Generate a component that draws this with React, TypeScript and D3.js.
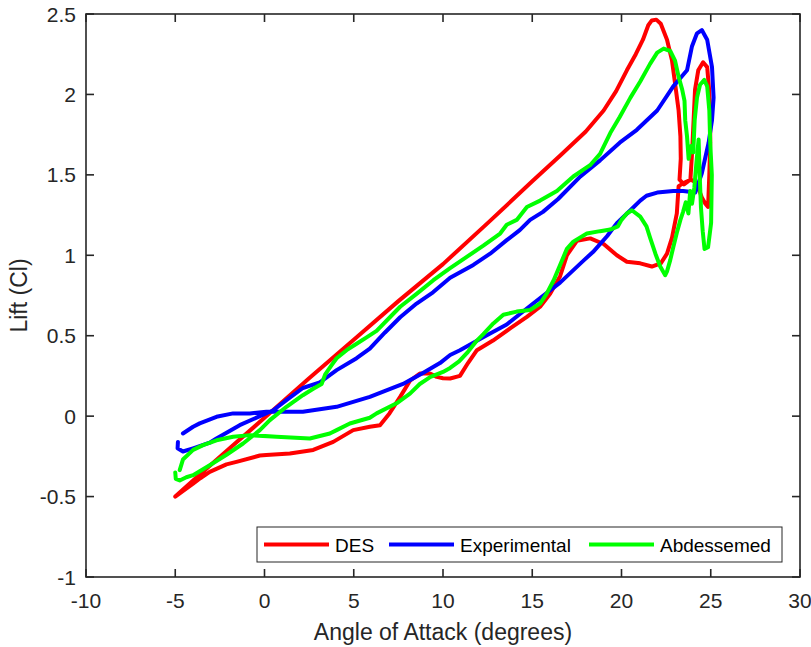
import React from "react";
import * as d3 from "d3";

type Pt = [number, number];

const xTicks = [-10, -5, 0, 5, 10, 15, 20, 25, 30];
const yTicks = [-1, -0.5, 0, 0.5, 1, 1.5, 2, 2.5];
const seriesNames = ["DES", "Experimental", "Abdessemed"];
const seriesColors = ["#ff0000", "#0000ff", "#00ff00"];

const desData: Pt[] = [
  [-5, -0.5], [-4, -0.4], [-2, -0.205], [0, -0.01], [2.5, 0.235], [5, 0.475], [7.5, 0.715],
  [10, 0.945], [12.5, 1.2], [15, 1.46], [16.57, 1.62], [18, 1.77], [19, 1.9], [19.7, 2.02],
  [20.3, 2.15], [20.8, 2.25], [21.2, 2.34], [21.5, 2.43], [21.7, 2.46], [21.95, 2.465],
  [22.2, 2.44], [22.55, 2.34], [22.83, 2.21], [23.0, 2.07], [23.2, 1.9], [23.3, 1.74],
  [23.32, 1.6], [23.25, 1.47], [23.5, 1.44], [23.86, 1.47], [23.95, 1.63], [24.04, 1.84],
  [24.12, 2.03], [24.3, 2.15], [24.57, 2.2], [24.8, 2.17], [24.9, 2.04], [24.97, 1.9],
  [24.97, 1.7], [24.92, 1.5], [24.85, 1.3], [24.7, 1.32], [24.5, 1.36], [24.2, 1.45],
  [23.9, 1.47], [23.5, 1.45], [23.2, 1.43], [23.1, 1.26], [22.83, 1.11], [22.55, 1.01],
  [22.2, 0.95], [21.7, 0.93], [21.05, 0.95], [20.3, 0.96], [19.74, 1.0], [19.0, 1.07],
  [18.25, 1.105], [17.5, 1.09], [16.94, 1.0], [16.56, 0.87], [16.0, 0.76], [15.44, 0.68],
  [14.7, 0.617], [13.76, 0.545], [12.8, 0.47], [11.9, 0.41], [11.4, 0.33], [10.95, 0.25],
  [10.4, 0.234], [10.0, 0.236], [9.65, 0.244], [9.27, 0.265], [8.7, 0.265], [8.15, 0.22],
  [7.6, 0.12], [7.0, 0.017], [6.47, -0.056], [5.9, -0.066], [4.97, -0.087], [3.85, -0.16],
  [2.73, -0.21], [1.42, -0.232], [0.1, -0.242], [-0.26, -0.245], [-1.57, -0.284],
  [-2.13, -0.3], [-3.07, -0.346], [-3.6, -0.386], [-4.0, -0.42], [-5, -0.5],
];

const expData: Pt[] = [
  [-4.85, -0.16], [-4.87, -0.2], [-4.57, -0.22], [-4.0, -0.2], [-3.07, -0.165],
  [-2.69, -0.139], [-1.39, -0.056], [-0.26, 0.0], [0.47, 0.035], [1.23, 0.1],
  [2.15, 0.175], [3.1, 0.21], [4.04, 0.286], [5.16, 0.36], [5.9, 0.42], [6.75, 0.52],
  [7.6, 0.615], [8.52, 0.7], [9.44, 0.77], [10.4, 0.86], [11.7, 0.94], [12.64, 1.01],
  [13.57, 1.094], [14.3, 1.156], [14.88, 1.22], [15.6, 1.27], [16.45, 1.35], [17.7, 1.49],
  [18.8, 1.59], [19.9, 1.7], [20.86, 1.78], [22.0, 1.9], [22.9, 2.05], [23.67, 2.15],
  [23.95, 2.3], [24.23, 2.38], [24.5, 2.4], [24.8, 2.34], [25.07, 2.17], [25.16, 1.98],
  [25.07, 1.84], [24.88, 1.7], [24.5, 1.51], [24.13, 1.39], [23.46, 1.4], [22.9, 1.4],
  [22.0, 1.39], [21.4, 1.37], [21.05, 1.34], [20.5, 1.28], [19.74, 1.2], [19.2, 1.12],
  [18.4, 1.02], [17.9, 0.97], [16.56, 0.83], [15.05, 0.7], [13.57, 0.57], [12.25, 0.49],
  [10.95, 0.41], [10.4, 0.38], [9.83, 0.33], [8.9, 0.27], [7.76, 0.2], [5.9, 0.12],
  [4.04, 0.058], [2.15, 0.027], [0.1, 0.027], [-0.82, 0.017], [-1.76, 0.017],
  [-2.69, -0.004], [-3.63, -0.045], [-4.0, -0.066], [-4.57, -0.108],
];

const abdData: Pt[] = [
  [-5.0, -0.35], [-4.97, -0.39], [-4.75, -0.4], [-4.38, -0.38], [-4.0, -0.367],
  [-3.07, -0.305], [-2.13, -0.24], [-1.2, -0.17], [-0.26, -0.087], [0.3, -0.025],
  [1.23, 0.058], [2.15, 0.13], [2.73, 0.17], [3.2, 0.2], [3.4, 0.26], [3.76, 0.317],
  [4.04, 0.36], [4.6, 0.41], [5.16, 0.45], [5.72, 0.49], [6.28, 0.53], [7.6, 0.68],
  [8.52, 0.76], [9.46, 0.845], [10.4, 0.92], [11.33, 0.99], [12.26, 1.06], [13.2, 1.135],
  [13.57, 1.19], [14.13, 1.22], [14.7, 1.3], [15.44, 1.34], [16.38, 1.4], [17.3, 1.49],
  [18.24, 1.56], [18.8, 1.63], [19.37, 1.76], [19.9, 1.86], [20.5, 1.98], [21.05, 2.08],
  [21.6, 2.19], [22.0, 2.26], [22.36, 2.285], [22.73, 2.27], [23.0, 2.21], [23.2, 2.11],
  [23.4, 2.03], [23.53, 1.96], [23.57, 1.84], [23.67, 1.74], [23.76, 1.6], [23.9, 1.68],
  [24.02, 1.64], [24.1, 1.84], [24.23, 1.98], [24.4, 2.06], [24.64, 2.09], [24.8, 2.05],
  [24.92, 1.9], [24.97, 1.7], [25.06, 1.5], [25.02, 1.2], [24.85, 1.05], [24.65, 1.04],
  [24.55, 1.15], [24.45, 1.3], [24.38, 1.5], [24.32, 1.72], [24.2, 1.58], [24.08, 1.42],
  [23.95, 1.32], [23.85, 1.4], [23.75, 1.26], [23.6, 1.33], [23.45, 1.27], [23.3, 1.22],
  [23.1, 1.14], [22.9, 1.05], [22.73, 0.97], [22.55, 0.9], [22.45, 0.876], [22.17, 0.93],
  [21.9, 1.01], [21.6, 1.11], [21.4, 1.18], [21.05, 1.24], [20.58, 1.28], [20.3, 1.26],
  [20.0, 1.22], [19.8, 1.18], [19.37, 1.16], [18.8, 1.15], [18.06, 1.135], [17.3, 1.085],
  [16.94, 1.04], [16.56, 0.94], [16.2, 0.845], [15.8, 0.76], [15.44, 0.7], [14.88, 0.66],
  [14.13, 0.65], [13.38, 0.63], [12.82, 0.576], [12.26, 0.51], [11.9, 0.47], [11.4, 0.4],
  [10.9, 0.34], [10.4, 0.3], [10.0, 0.275], [9.3, 0.244], [8.7, 0.2], [8.15, 0.14],
  [7.4, 0.08], [6.28, 0.017], [5.9, -0.01], [4.78, -0.046], [4.04, -0.087], [3.66, -0.108],
  [2.54, -0.139], [0.67, -0.128], [-0.82, -0.118], [-1.76, -0.128], [-2.69, -0.15],
  [-3.44, -0.18], [-4.0, -0.21], [-4.57, -0.27], [-4.75, -0.336],
];

const allSeries = [desData, expData, abdData];

const W = 811;
const H = 647;
const M = { left: 86, right: 800, top: 14, bottom: 577 };
const FONT = "'Liberation Sans', Arial, Helvetica, sans-serif";
const AX = "#262626";

export default function App() {
  const x = d3.scaleLinear().domain([-10, 30]).range([M.left, M.right]);
  const y = d3.scaleLinear().domain([-1, 2.5]).range([M.bottom, M.top]);
  const line = d3
    .line<Pt>()
    .x((d) => x(d[0]))
    .y((d) => y(d[1]))
    .curve(d3.curveLinear);

  const legX = [264, 389, 589];
  const legLen = 65;

  return (
    <svg
      width={W}
      height={H}
      style={{ position: "absolute", left: 0, top: 0, background: "#fff" }}
      fontFamily={FONT}
    >
      <rect x={0} y={0} width={W} height={H} fill="#fff" />
      <defs>
        <clipPath id="plotclip">
          <rect x={M.left} y={M.top} width={M.right - M.left} height={M.bottom - M.top} />
        </clipPath>
      </defs>
      <g clipPath="url(#plotclip)">
        {allSeries.map((s, i) => (
          <path
            key={i}
            d={line(s) || ""}
            fill="none"
            stroke={seriesColors[i]}
            strokeWidth={4}
            strokeLinejoin="round"
            strokeLinecap="round"
          />
        ))}
      </g>
      {/* axes box */}
      <rect
        x={M.left}
        y={M.top}
        width={M.right - M.left}
        height={M.bottom - M.top}
        fill="none"
        stroke={AX}
        strokeWidth={1.6}
      />
      {xTicks.map((t) => (
        <g key={"xt" + t}>
          <line x1={x(t)} x2={x(t)} y1={M.bottom} y2={M.bottom - 8} stroke={AX} strokeWidth={1.6} />
          <line x1={x(t)} x2={x(t)} y1={M.top} y2={M.top + 8} stroke={AX} strokeWidth={1.6} />
          <text x={x(t)} y={608} textAnchor="middle" fontSize={21} fill={AX}>
            {String(t)}
          </text>
        </g>
      ))}
      {yTicks.map((t) => (
        <g key={"yt" + t}>
          <line x1={M.left} x2={M.left + 8} y1={y(t)} y2={y(t)} stroke={AX} strokeWidth={1.6} />
          <line x1={M.right} x2={M.right - 8} y1={y(t)} y2={y(t)} stroke={AX} strokeWidth={1.6} />
          <text x={76} y={y(t) + 7.5} textAnchor="end" fontSize={21} fill={AX}>
            {String(t)}
          </text>
        </g>
      ))}
      <text x={(M.left + M.right) / 2} y={640} textAnchor="middle" fontSize={23} fill={AX}>
        Angle of Attack (degrees)
      </text>
      <text
        transform={`translate(27, ${(M.top + M.bottom) / 2}) rotate(-90)`}
        textAnchor="middle"
        fontSize={23}
        fill={AX}
      >
        Lift (Cl)
      </text>
      {/* legend */}
      <rect x={257} y={527} width={525} height={35} fill="#fff" stroke={AX} strokeWidth={1} />
      {seriesNames.map((n, i) => (
        <g key={n}>
          <line
            x1={legX[i]}
            x2={legX[i] + legLen}
            y1={544.5}
            y2={544.5}
            stroke={seriesColors[i]}
            strokeWidth={4}
          />
          <text x={legX[i] + legLen + 6} y={551.5} fontSize={19} fill="#000">
            {n}
          </text>
        </g>
      ))}
    </svg>
  );
}
